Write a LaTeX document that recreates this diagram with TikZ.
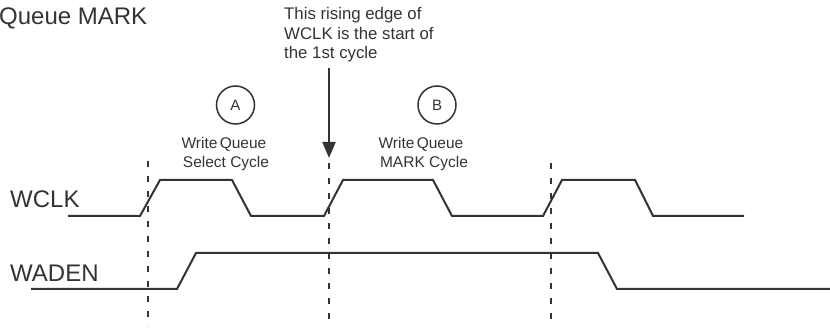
\documentclass[tikz,border=0pt]{standalone}
\usepackage{fontspec}
\setmainfont{Liberation Sans}
\usetikzlibrary{arrows.meta}
\definecolor{ink}{HTML}{333333}
\tikzset{
  sig/.style={draw=ink, line width=2pt, line join=miter},
  guide/.style={draw=ink, line width=2.4pt, dash pattern=on 6pt off 9pt},
  lbl/.style={text=ink, inner sep=0pt, font=\fontsize{24}{28}\selectfont},
  note/.style={text=ink, inner sep=0pt, anchor=base west, font=\fontsize{16.8}{20}\selectfont},
  cyc/.style={text=ink, inner sep=0pt, anchor=base, font=\fontsize{15.5}{18}\selectfont},
  badge/.style={circle, draw=ink, line width=1.5pt, minimum size=38pt, inner sep=0pt, text=ink, font=\fontsize{15}{17}\selectfont},
  pointer/.style={draw=ink, line width=2pt, -{Triangle[length=16pt,width=13pt]}}
}
\begin{document}
\begin{tikzpicture}[x=1pt,y=-1pt]
\useasboundingbox (0,0) rectangle (830,328);
% titles and signal names
\node[lbl, anchor=base west] (title) at (-1,25) {Queue MARK};
\node[lbl, anchor=base west] (wclk) at (10,208) {WCLK};
\node[lbl, anchor=base west] (waden) at (10,282) {WADEN};
% annotation
\node[note] (n1) at (284,20) {This rising edge of};
\node[note] (n2) at (284,39.5) {WCLK is the start of};
\node[note] (n3) at (284,59) {the 1st cycle};
% cycle badges and labels
\node[badge] (A) at (235.5,105) {A};
\node[badge] (B) at (437,105) {B};
\node[cyc] (a1) at (224,149) {Write\hspace{-2pt} Queue};
\node[cyc] (a2) at (226,168) {Select Cycle};
\node[cyc] (b1) at (421,149) {Write\hspace{-2pt} Queue};
\node[cyc] (b2) at (424,168) {MARK Cycle};
% guide lines
\coordinate (g1t) at (148,161);
\coordinate (g1b) at (148,326);
\coordinate (g2t) at (329,163);
\coordinate (g2b) at (329,326);
\coordinate (g3t) at (551,163);
\coordinate (g3b) at (551,326);
\draw[guide] (g1t) -- (g1b);
\draw[guide] (g2t) -- (g2b);
\draw[guide] (g3t) -- (g3b);
% pointer arrow
\coordinate (ptop) at (329,68);
\coordinate (ptip) at (329,158);
\draw[pointer] (ptop) -- (ptip);
% waveforms
\draw[sig] (68,216) -- (140,216) -- (160,180) -- (232,180) -- (251,216) -- (324,216)
  -- (343,180) -- (433,180) -- (452,216) -- (543,216) -- (562,180) -- (635,180)
  -- (653,216) -- (744,216);
\draw[sig] (31,289) -- (177,289) -- (196,253) -- (598,253) -- (617,289) -- (830,289);
\end{tikzpicture}
\end{document}
